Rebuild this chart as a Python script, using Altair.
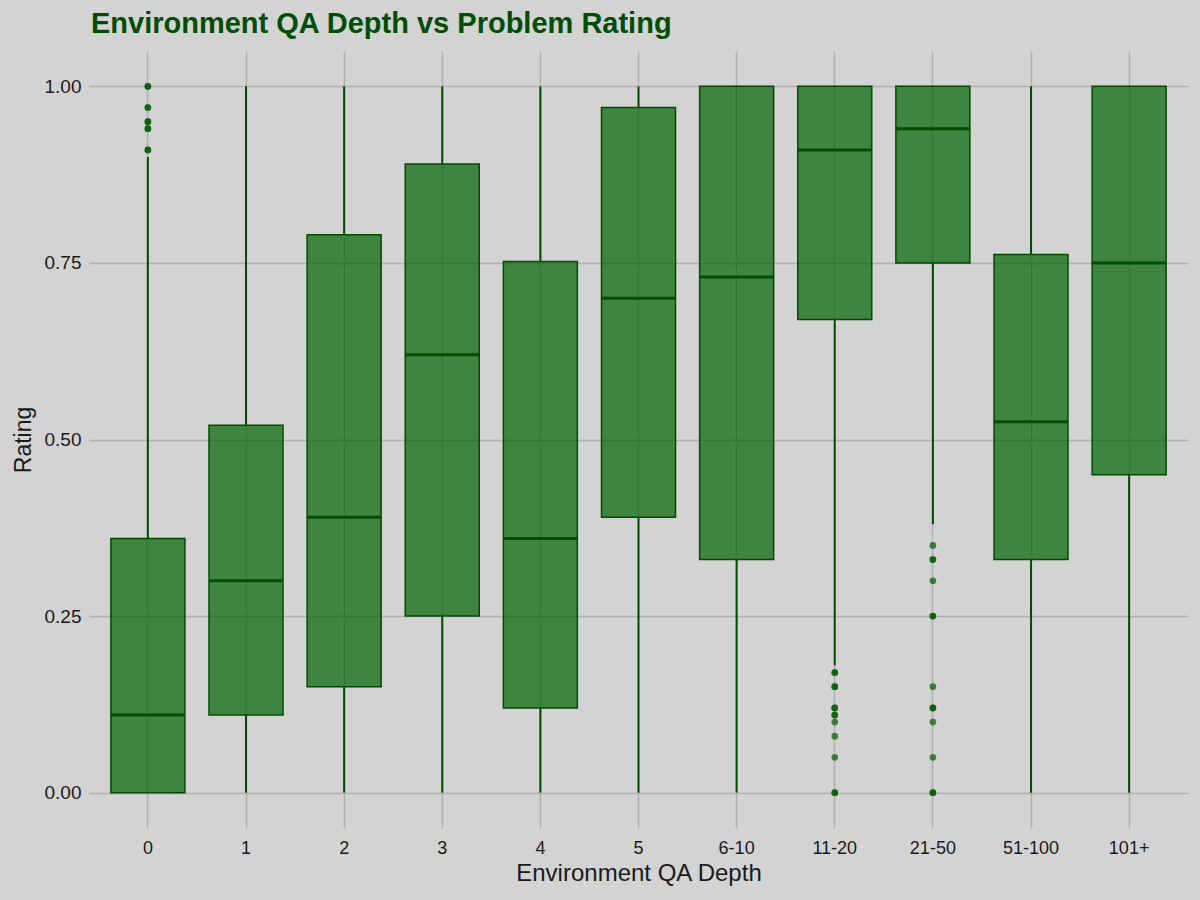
import altair as alt
import pandas as pd

categories = ["0", "1", "2", "3", "4", "5", "6-10", "11-20", "21-50", "51-100", "101+"]
whisker_low = [0.0, 0.0, 0.0, 0.0, 0.0, 0.0, 0.0, 0.18, 0.38, 0.0, 0.0]
q1 = [0.0, 0.11, 0.15, 0.25, 0.12, 0.39, 0.33, 0.67, 0.75, 0.33, 0.45]
median = [0.11, 0.30, 0.39, 0.62, 0.36, 0.70, 0.73, 0.91, 0.94, 0.525, 0.75]
q3 = [0.36, 0.52, 0.79, 0.89, 0.752, 0.97, 1.0, 1.0, 1.0, 0.762, 1.0]
whisker_high = [0.90, 1.0, 1.0, 1.0, 1.0, 1.0, 1.0, 1.0, 1.0, 1.0, 1.0]

outlier_cat = (["0"] * 10
               + ["11-20"] * 13
               + ["21-50"] * 13)
outlier_val = ([1.0, 1.0, 0.97, 0.97, 0.95, 0.95, 0.94, 0.94, 0.91, 0.91]
               + [0.17, 0.17, 0.15, 0.15, 0.12, 0.12, 0.11, 0.11, 0.10, 0.08, 0.05, 0.0, 0.0]
               + [0.35, 0.33, 0.33, 0.30, 0.25, 0.25, 0.15, 0.12, 0.12, 0.10, 0.05, 0.0, 0.0])

boxes = pd.DataFrame({"cat": categories, "lo": whisker_low, "q1": q1, "med": median,
                      "q3": q3, "hi": whisker_high})
outs = pd.DataFrame({"cat": outlier_cat, "val": outlier_val})

DARK = "#004d00"
FILL = "#006400"
FONT = "Liberation Sans"

xenc = alt.X("cat:N", sort=categories, title="Environment QA Depth",
             scale=alt.Scale(paddingOuter=0.1, paddingInner=0.0),
             axis=alt.Axis(labelAngle=0, grid=True, ticks=False, domain=False,
                           labelFontSize=18, titleFontSize=24, labelPadding=11,
                           titlePadding=4, labelColor="#1a1a1a", titleColor="#1a1a1a",
                           gridColor="#b0b0b0", gridWidth=1.5, bandPosition=0.5,
                           labelFont=FONT, titleFont=FONT,
                           titleFontWeight="normal"))
yscale = alt.Scale(domain=[-0.05, 1.05], nice=False, zero=False)
yaxis = alt.Axis(values=[0, 0.25, 0.5, 0.75, 1.0], format=".2f", ticks=False,
                 domain=False, gridColor="#b0b0b0", gridWidth=1.5,
                 labelFontSize=19, titleFontSize=23, labelPadding=8,
                 titlePadding=9, labelColor="#1a1a1a", titleColor="#1a1a1a",
                 labelFont=FONT, titleFont=FONT, titleFontWeight="normal")

whisk_low = alt.Chart(boxes).mark_rule(color=DARK, strokeWidth=2).encode(
    x=xenc,
    y=alt.Y("lo:Q", scale=yscale, title="Rating", axis=yaxis),
    y2="q1:Q",
)
whisk_high = alt.Chart(boxes).mark_rule(color=DARK, strokeWidth=2).encode(
    x=alt.X("cat:N", sort=categories),
    y=alt.Y("q3:Q", scale=yscale),
    y2="hi:Q",
)

box = alt.Chart(boxes).mark_bar(size=74, color=FILL, fillOpacity=0.7, stroke=DARK,
                                strokeWidth=1.5).encode(
    x=alt.X("cat:N", sort=categories),
    y=alt.Y("q1:Q", scale=yscale),
    y2="q3:Q",
)

med = alt.Chart(boxes).mark_tick(size=74, thickness=3, color=DARK, opacity=1).encode(
    x=alt.X("cat:N", sort=categories),
    y=alt.Y("med:Q", scale=yscale),
)

pts = alt.Chart(outs).mark_circle(size=45, color="#005a00", opacity=0.7).encode(
    x=alt.X("cat:N", sort=categories),
    y=alt.Y("val:Q", scale=yscale),
)

chart = alt.layer(whisk_low, whisk_high, box, med, pts).properties(
    width=1099, height=777,
    background="#d3d3d3",
    autosize=alt.AutoSizeParams(type="none"),
    padding={"left": 89, "top": 51, "right": 12, "bottom": 72},
    title=alt.TitleParams("Environment QA Depth vs Problem Rating", anchor="start",
                          frame="group", fontSize=29, font=FONT, fontWeight="bold",
                          color="#004d00", offset=12, dx=2),
).configure_view(stroke=None).configure_axis(gridOpacity=1)

chart.save("out.html", embed_options={"renderer": "svg", "actions": False})
